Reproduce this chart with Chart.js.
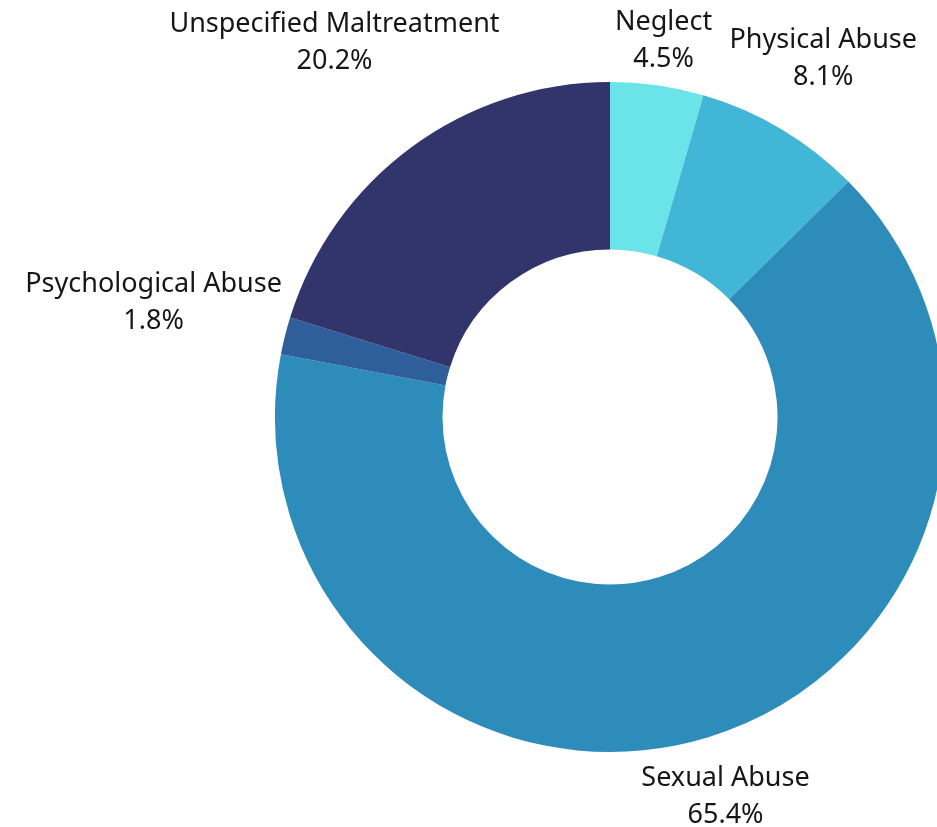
<!DOCTYPE html>
<html>
<head>
<meta charset="utf-8">
<script src="https://cdn.jsdelivr.net/npm/chart.js@4.4.0/dist/chart.umd.min.js"></script>
<style>
    html, body { margin: 0; padding: 0; background: #ffffff; overflow: hidden; width: 937px; height: 827px; }
    #wrap { width: 960px; height: 827px; position: relative; }
</style>
</head>
<body>
<div id="wrap"><canvas id="abuseChart"></canvas></div>
<script>
// Categorias e valores (%)
const categorias = ['Neglect', 'Physical Abuse', 'Sexual Abuse', 'Psychological Abuse', 'Unspecified Maltreatment'];
const percentuais = [4.5, 8.1, 65.4, 1.8, 20.2];
const cores = ['#6ae4e8', '#42b6d6', '#2e8cba', '#2e5f9a', '#31356b'];

const FONTE = '27px "Noto Sans", sans-serif';
const ALTURA_LINHA = 37;

// Plugin para desenhar os rótulos fora das fatias
const rotulosExternos = {
    id: 'rotulosExternos',
    afterDraw(chart) {
        const ctx = chart.ctx;
        const meta = chart.getDatasetMeta(0);
        ctx.save();
        ctx.font = FONTE;
        ctx.fillStyle = '#161616';
        ctx.textAlign = 'center';
        ctx.textBaseline = 'middle';
        meta.data.forEach((arco, i) => {
            const p = arco.getProps(['x', 'y', 'startAngle', 'endAngle', 'outerRadius'], true);
            const meio = (p.startAngle + p.endAngle) / 2;
            const dx = Math.cos(meio);
            const dy = Math.sin(meio);
            const linhas = [categorias[i], percentuais[i].toFixed(1) + '%'];
            const largura = Math.max(...linhas.map(l => ctx.measureText(l).width));
            const meiaAltura = ALTURA_LINHA * linhas.length / 2;
            const dist = p.outerRadius + 2 + Math.abs(dx) * largura / 2 + Math.abs(dy) * meiaAltura;
            const cx = p.x + dx * dist;
            const cy = p.y + dy * dist;
            linhas.forEach((linha, j) => {
                ctx.fillText(linha, cx, cy - meiaAltura + ALTURA_LINHA * (j + 0.5));
            });
        });
        ctx.restore();
    }
};

new Chart(document.getElementById('abuseChart'), {
    type: 'doughnut',
    data: {
        labels: categorias,
        datasets: [{
            data: percentuais,
            backgroundColor: cores,
            borderWidth: 0
        }]
    },
    options: {
        responsive: true,
        maintainAspectRatio: false,
        animation: false,
        cutout: '50%',
        layout: { padding: { left: 275, right: 15, top: 82, bottom: 75 } },
        plugins: {
            legend: { display: false },
            tooltip: { enabled: false }
        }
    },
    plugins: [rotulosExternos]
});
</script>
</body>
</html>
